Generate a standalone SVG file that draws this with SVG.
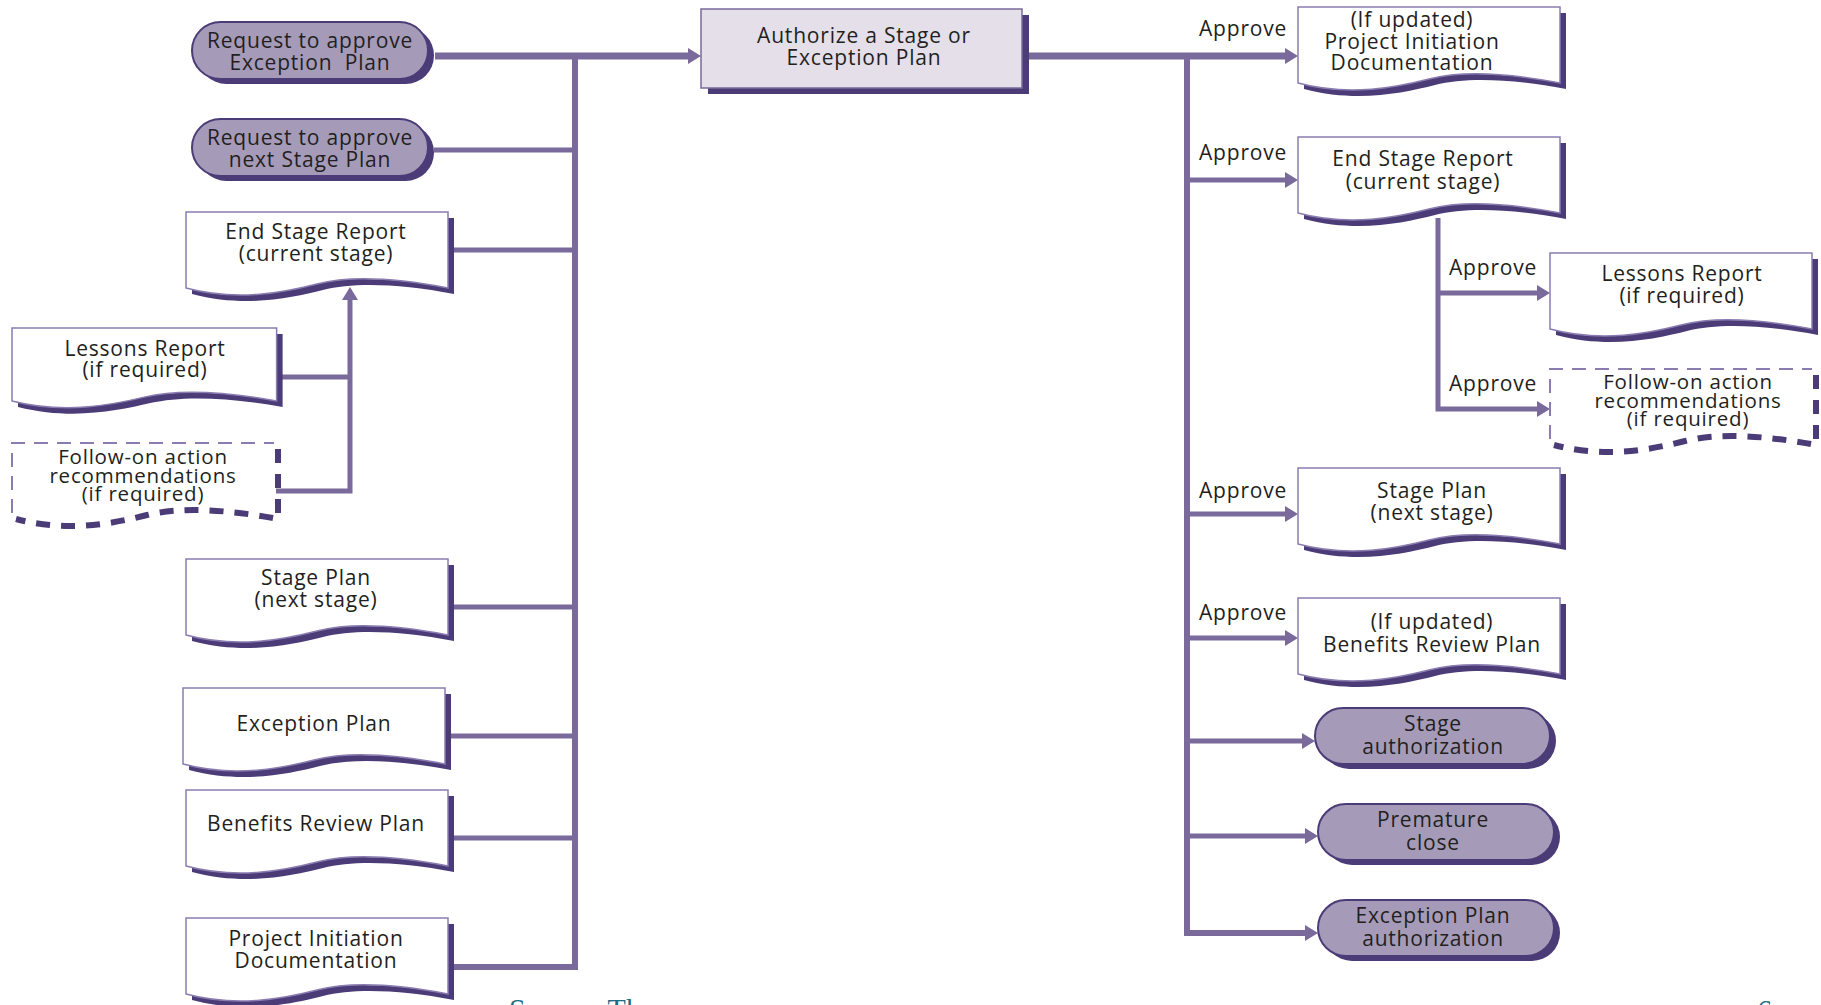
<svg xmlns="http://www.w3.org/2000/svg" xmlns:xlink="http://www.w3.org/1999/xlink" width="1821" height="1005" viewBox="0 0 1821 1005">
  <style>
    .sh { fill: #4b3c78; }
    .doc { fill: #ffffff; stroke: #8a7cb0; stroke-width: 1.5; }
    .pill { fill: #a59bb9; stroke: #4b3c78; stroke-width: 2; }
    .box { fill: #e4dfe8; stroke: #7a6a9b; stroke-width: 1.5; }
    .dtop { fill: #ffffff; stroke: #8a7cb0; stroke-width: 2; stroke-dasharray: 14 9; }
    .dsh { fill: none; stroke: #4b3c78; stroke-width: 6; stroke-dasharray: 14 11; }
    .t { font-family: "Open Sans", "Noto Sans", sans-serif; font-size: 21px; font-weight: 500; letter-spacing: 0.8px; fill: #231f20; text-anchor: middle; }
    .tight { font-size: 20.5px; }
    .lbl { text-anchor: start; }
    .c { fill: none; stroke: #7a6a9b; stroke-width: 5; stroke-linejoin: miter; }
    .bus { stroke-width: 6; }
    .main { stroke-width: 7; }
    .src { font-family: "Liberation Serif", serif; font-size: 30px; fill: #1d6e85; }
  </style>
  <defs>
    <marker id="ah" markerUnits="userSpaceOnUse" markerWidth="13" markerHeight="16" refX="2" refY="8" orient="auto">
      <path d="M0,0 L13,8 L0,16 Z" fill="#7a6a9b"/>
    </marker>
    <!-- document shape: flat top, wavy bottom -->
    <path id="docShape" d="M0,0 H262 V76 C209.6,66 162.4,64 131,72 C99.6,80 52.4,90 0,76 Z"/>
    <!-- optional document (dashed outline) -->
    <path id="optTop" d="M0,70 V0 H262"/>
    <path id="optShadow" d="M262,0 V70 C209.6,60 162.4,58 131,66 C99.6,74 52.4,84 0,70"/>
  </defs>

  <rect width="1821" height="1005" fill="#ffffff"/>

  <!-- connectors -->
  <g id="connectors">
    <!-- inputs into the bus on the left -->
    <path class="c main" d="M435,56 H690" marker-end="url(#ah)"/>
    <path class="c" d="M434,150 H575"/>
    <path class="c" d="M453,250 H575"/>
    <path class="c" d="M453,607 H575"/>
    <path class="c" d="M451,736 H575"/>
    <path class="c" d="M453,838 H575"/>
    <path class="c bus" d="M453,967 H575 V53"/>
    <!-- lessons / follow-on feed the end stage report -->
    <path class="c" d="M281,377 H350"/>
    <path class="c" d="M276,491 H350 V298" marker-end="url(#ah)"/>
    <!-- outputs on the right -->
    <path class="c main" d="M1029,56 H1287" marker-end="url(#ah)"/>
    <path class="c bus" d="M1187,56 V933 H1307" marker-end="url(#ah)"/>
    <path class="c" d="M1187,180 H1287" marker-end="url(#ah)"/>
    <path class="c" d="M1187,514 H1287" marker-end="url(#ah)"/>
    <path class="c" d="M1187,638 H1287" marker-end="url(#ah)"/>
    <path class="c" d="M1187,741 H1304" marker-end="url(#ah)"/>
    <path class="c" d="M1187,836 H1307" marker-end="url(#ah)"/>
    <path class="c" d="M1438,218 V409 H1539" marker-end="url(#ah)"/>
    <path class="c" d="M1438,293 H1539" marker-end="url(#ah)"/>
  </g>

  <!-- approve labels -->
  <g id="labels" class="t lbl">
    <text x="1199" y="36">Approve</text>
    <text x="1199" y="160">Approve</text>
    <text x="1449" y="275">Approve</text>
    <text x="1449" y="391">Approve</text>
    <text x="1199" y="498">Approve</text>
    <text x="1199" y="620">Approve</text>
  </g>

  <!-- left column -->
  <g id="req-exception-plan">
    <rect class="sh" x="198" y="27" width="236" height="57" rx="28.5"/>
    <rect class="pill" x="192" y="22" width="236" height="57" rx="28.5"/>
    <text class="t" x="310" y="48">Request to approve</text>
    <text class="t" x="310" y="70" xml:space="preserve">Exception  Plan</text>
  </g>
  <g id="req-next-stage-plan">
    <rect class="sh" x="198" y="124" width="236" height="57" rx="28.5"/>
    <rect class="pill" x="192" y="119" width="236" height="57" rx="28.5"/>
    <text class="t" x="310" y="145">Request to approve</text>
    <text class="t" x="310" y="167">next Stage Plan</text>
  </g>
  <g id="in-end-stage-report">
    <use href="#docShape" class="sh" transform="translate(192,218)"/>
    <use href="#docShape" class="doc" transform="translate(186,212)"/>
    <text class="t" x="316" y="239">End Stage Report</text>
    <text class="t" x="316" y="261">(current stage)</text>
  </g>
  <g id="in-lessons-report">
    <use href="#docShape" class="sh" transform="translate(18,334) scale(1.01,0.96)"/>
    <use href="#docShape" class="doc" transform="translate(12,328) scale(1.01,0.96)"/>
    <text class="t" x="145" y="356">Lessons Report</text>
    <text class="t" x="145" y="377">(if required)</text>
  </g>
  <g id="in-follow-on">
    <use href="#optTop" class="dtop" transform="translate(12,443)"/>
    <use href="#optShadow" class="dsh" transform="translate(16,449)"/>
    <text class="t tight" x="143" y="464">Follow-on action</text>
    <text class="t tight" x="143" y="483">recommendations</text>
    <text class="t tight" x="143" y="501">(if required)</text>
  </g>
  <g id="in-stage-plan">
    <use href="#docShape" class="sh" transform="translate(192,565)"/>
    <use href="#docShape" class="doc" transform="translate(186,559)"/>
    <text class="t" x="316" y="585">Stage Plan</text>
    <text class="t" x="316" y="607">(next stage)</text>
  </g>
  <g id="in-exception-plan">
    <use href="#docShape" class="sh" transform="translate(189,694)"/>
    <use href="#docShape" class="doc" transform="translate(183,688)"/>
    <text class="t" x="314" y="731">Exception Plan</text>
  </g>
  <g id="in-benefits-review-plan">
    <use href="#docShape" class="sh" transform="translate(192,796)"/>
    <use href="#docShape" class="doc" transform="translate(186,790)"/>
    <text class="t" x="316" y="831">Benefits Review Plan</text>
  </g>
  <g id="in-pid">
    <use href="#docShape" class="sh" transform="translate(192,924)"/>
    <use href="#docShape" class="doc" transform="translate(186,918)"/>
    <text class="t" x="316" y="946">Project Initiation</text>
    <text class="t" x="316" y="968">Documentation</text>
  </g>

  <!-- process -->
  <g id="authorize">
    <rect class="sh" x="708" y="15" width="321" height="79"/>
    <rect class="box" x="701" y="9" width="321" height="79"/>
    <text class="t" x="864" y="43">Authorize a Stage or</text>
    <text class="t" x="864" y="65">Exception Plan</text>
  </g>

  <!-- right column -->
  <g id="out-pid">
    <use href="#docShape" class="sh" transform="translate(1304,13)"/>
    <use href="#docShape" class="doc" transform="translate(1298,7)"/>
    <text class="t" x="1412" y="27">(If updated)</text>
    <text class="t" x="1412" y="49">Project Initiation</text>
    <text class="t" x="1412" y="70">Documentation</text>
  </g>
  <g id="out-end-stage-report">
    <use href="#docShape" class="sh" transform="translate(1304,143)"/>
    <use href="#docShape" class="doc" transform="translate(1298,137)"/>
    <text class="t" x="1423" y="166">End Stage Report</text>
    <text class="t" x="1423" y="189">(current stage)</text>
  </g>
  <g id="out-lessons-report">
    <use href="#docShape" class="sh" transform="translate(1556,259)"/>
    <use href="#docShape" class="doc" transform="translate(1550,253)"/>
    <text class="t" x="1682" y="281">Lessons Report</text>
    <text class="t" x="1682" y="303">(if required)</text>
  </g>
  <g id="out-follow-on">
    <use href="#optTop" class="dtop" transform="translate(1550,369)"/>
    <use href="#optShadow" class="dsh" transform="translate(1554,375)"/>
    <text class="t tight" x="1688" y="389">Follow-on action</text>
    <text class="t tight" x="1688" y="408">recommendations</text>
    <text class="t tight" x="1688" y="426">(if required)</text>
  </g>
  <g id="out-stage-plan">
    <use href="#docShape" class="sh" transform="translate(1304,474)"/>
    <use href="#docShape" class="doc" transform="translate(1298,468)"/>
    <text class="t" x="1432" y="498">Stage Plan</text>
    <text class="t" x="1432" y="520">(next stage)</text>
  </g>
  <g id="out-benefits-review-plan">
    <use href="#docShape" class="sh" transform="translate(1304,604)"/>
    <use href="#docShape" class="doc" transform="translate(1298,598)"/>
    <text class="t" x="1432" y="629">(If updated)</text>
    <text class="t" x="1432" y="652">Benefits Review Plan</text>
  </g>
  <g id="stage-authorization">
    <rect class="sh" x="1321" y="713" width="235" height="56" rx="28"/>
    <rect class="pill" x="1315" y="708" width="235" height="56" rx="28"/>
    <text class="t" x="1433" y="731">Stage</text>
    <text class="t" x="1433" y="754">authorization</text>
  </g>
  <g id="premature-close">
    <rect class="sh" x="1324" y="809" width="236" height="56" rx="28"/>
    <rect class="pill" x="1318" y="804" width="236" height="56" rx="28"/>
    <text class="t" x="1433" y="827">Premature</text>
    <text class="t" x="1433" y="850">close</text>
  </g>
  <g id="exception-plan-authorization">
    <rect class="sh" x="1324" y="905" width="236" height="56" rx="28"/>
    <rect class="pill" x="1318" y="900" width="236" height="56" rx="28"/>
    <text class="t" x="1433" y="923">Exception Plan</text>
    <text class="t" x="1433" y="946">authorization</text>
  </g>

  <!-- footer, running off the page edge -->
  <text class="src" x="509" y="1019">Source: The</text>
  <text class="src" x="1757" y="1020">6</text>
</svg>
